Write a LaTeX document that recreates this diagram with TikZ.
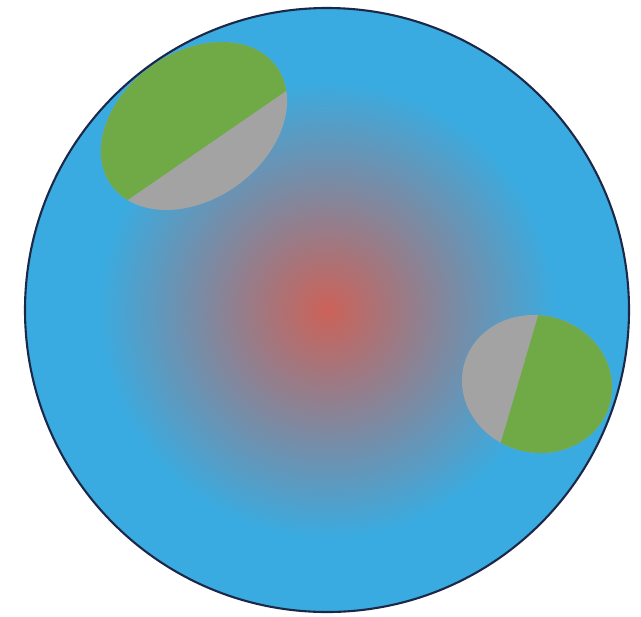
\documentclass[tikz,border=0pt]{standalone}
\usepackage{xcolor}
\usepackage{tikz}
\definecolor{cielo}{RGB}{58,171,224}
\definecolor{nucleo}{RGB}{204,98,88}
\definecolor{verde}{RGB}{111,170,70}
\definecolor{gris}{RGB}{163,163,163}
\definecolor{borde}{RGB}{27,40,72}

\begin{document}
\begin{tikzpicture}[x=0.02cm,y=-0.02cm]
    \useasboundingbox (0,0) rectangle (641,616);
    \fill[cielo] (327,310) circle(302);     % disco
    \shade[inner color=nucleo, outer color=cielo] (327,310) circle(228);

    % mancha superior
    \fill[gris, rotate around={35.5:(194,126)}] (194,126) ellipse [x radius=101.6, y radius=73.4];
    \begin{scope}
    \clip[rotate around={35.5:(194,126)}] (194,126) ellipse [x radius=101.6, y radius=73.4];
    \fill[verde] (87,228) -- (328,62) -- (328,20) -- (60,20) -- (60,228) -- cycle;
    \end{scope}

    % mancha derecha
    \fill[gris, rotate around={-15:(537,384)}] (537,384) ellipse [x radius=75.5, y radius=68.5];
    \begin{scope}
    \clip[rotate around={-15:(537,384)}] (537,384) ellipse [x radius=75.5, y radius=68.5];
    \fill[verde] (555,258) -- (484,500) -- (640,500) -- (640,258) -- cycle;
    \end{scope}

    \draw[borde, line width=1.2pt] (327,310) circle(302);
\end{tikzpicture}
\end{document}
